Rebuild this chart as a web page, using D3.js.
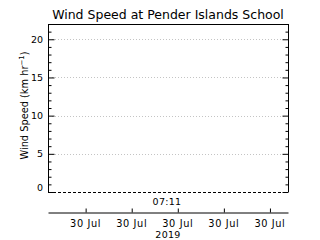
<!DOCTYPE html>
<html><head><meta charset="utf-8">
<script src="https://cdn.jsdelivr.net/npm/d3@7"></script>
<style>html,body{margin:0;padding:0;background:#fff}svg{display:block}text{font-family:"DejaVu Sans",sans-serif;fill:#000}</style>
</head><body>
<script>
const title = "Wind Speed at Pender Islands School";
const yLabel = "Wind Speed (km hr";
const yTicks = [0, 5, 10, 15, 20];
const gridValues = [5, 10, 15, 20];
const timeDomain = ["2019-07-30T02:22", "2019-07-30T12:47"];
const tickTimes = ["2019-07-30T04:00", "2019-07-30T06:00", "2019-07-30T08:00", "2019-07-30T10:00", "2019-07-30T12:00"];
const tickLabels = ["30 Jul", "30 Jul", "30 Jul", "30 Jul", "30 Jul"];
const centerLabel = "07:11";
const yearLabel = "2019";
const windSpeed = [0];

const W = 320, H = 240;
const m = {l: 48, r: 32, t: 24, b: 48};
const svg = d3.select("body").append("svg").attr("width", W).attr("height", H);
const pw = W - m.l - m.r, ph = H - m.t - m.b;
const parse = d3.isoParse;
const x = d3.scaleTime().domain(timeDomain.map(parse)).range([m.l, m.l + pw]);
const y = d3.scaleLinear().domain([0, 22]).range([m.t + ph, m.t]);

// grid
svg.append("g").selectAll("line").data(gridValues).join("line")
  .attr("x1", m.l + 4).attr("x2", m.l + pw - 4)
  .attr("y1", d => Math.round(y(d)) + 0.5).attr("y2", d => Math.round(y(d)) + 0.5)
  .attr("stroke", "#c4c4c4").attr("stroke-dasharray", "1,2");

// zero line
svg.append("line").attr("x1", m.l).attr("x2", m.l + pw)
  .attr("y1", Math.round(y(windSpeed[0])) + 0.5).attr("y2", Math.round(y(windSpeed[0])) + 0.5)
  .attr("stroke", "#000").attr("stroke-dasharray", "3,2");

// left axis
const minor = d3.range(0, 23, 1);
svg.append("g").attr("transform", `translate(${m.l + 0.5},0)`)
  .call(d3.axisRight(y).tickValues(yTicks).tickSize(6).tickFormat(""))
  .call(g => g.select(".domain").remove());
svg.append("g").attr("transform", `translate(${m.l + 0.5},0)`)
  .call(d3.axisRight(y).tickValues(minor.filter(v => v % 5)).tickSize(3).tickFormat(""))
  .call(g => g.select(".domain").remove());
svg.append("line").attr("x1", m.l + 0.5).attr("x2", m.l + 0.5).attr("y1", m.t).attr("y2", m.t + ph).attr("stroke", "#000");
svg.append("g").selectAll("text").data(yTicks).join("text")
  .attr("x", m.l - 5).attr("y", d => y(d)).attr("dy", d => d === 0 ? "-0.1em" : "0.35em")
  .attr("text-anchor", "end").attr("font-size", 9.5).text(d => d);

// right axis
svg.append("g").attr("transform", `translate(${m.l + pw + 0.5},0)`)
  .call(d3.axisLeft(y).tickValues(yTicks).tickSize(6).tickFormat(""))
  .call(g => g.select(".domain").remove());
svg.append("g").attr("transform", `translate(${m.l + pw + 0.5},0)`)
  .call(d3.axisLeft(y).tickValues(minor.filter(v => v % 5)).tickSize(3).tickFormat(""))
  .call(g => g.select(".domain").remove());
svg.append("line").attr("x1", m.l + pw + 0.5).attr("x2", m.l + pw + 0.5).attr("y1", m.t).attr("y2", m.t + ph).attr("stroke", "#000");
// top
svg.append("line").attr("x1", m.l).attr("x2", m.l + pw + 1).attr("y1", m.t + 0.5).attr("y2", m.t + 0.5).attr("stroke", "#000");

// title
svg.append("text").attr("x", m.l + pw / 2).attr("y", 19).attr("text-anchor", "middle")
  .attr("font-size", 12.5).text(title);

// y label
const yt = svg.append("text").attr("transform", `translate(28,105.5) rotate(-90)`)
  .attr("text-anchor", "middle").attr("font-size", 9.8);
yt.append("tspan").text(yLabel);
yt.append("tspan").attr("dy", -4).attr("font-size", 7).text("−1");
yt.append("tspan").attr("dy", 4).text(")");

// center time label
svg.append("text").attr("x", m.l + pw / 2 - 1).attr("y", 205).attr("text-anchor", "middle")
  .attr("font-size", 9.5).attr("letter-spacing", 0.3).text(centerLabel);

// bottom time axis
const xa = svg.append("g").attr("transform", `translate(0,212.5)`)
  .call(d3.axisTop(x).tickValues(tickTimes.map(parse)).tickSize(4).tickSizeOuter(0).tickFormat(""));
xa.select(".domain").attr("stroke", "#000");
svg.append("g").selectAll("text").data(tickTimes).join("text")
  .attr("x", d => x(parse(d))).attr("y", 226.5).attr("text-anchor", "middle")
  .attr("font-size", 9.8).attr("letter-spacing", 0.6).text((d, i) => tickLabels[i]);
svg.append("text").attr("x", m.l + pw / 2).attr("y", 237.5).attr("text-anchor", "middle")
  .attr("font-size", 9.5).attr("letter-spacing", 0.3).text(yearLabel);
</script>
</body></html>
